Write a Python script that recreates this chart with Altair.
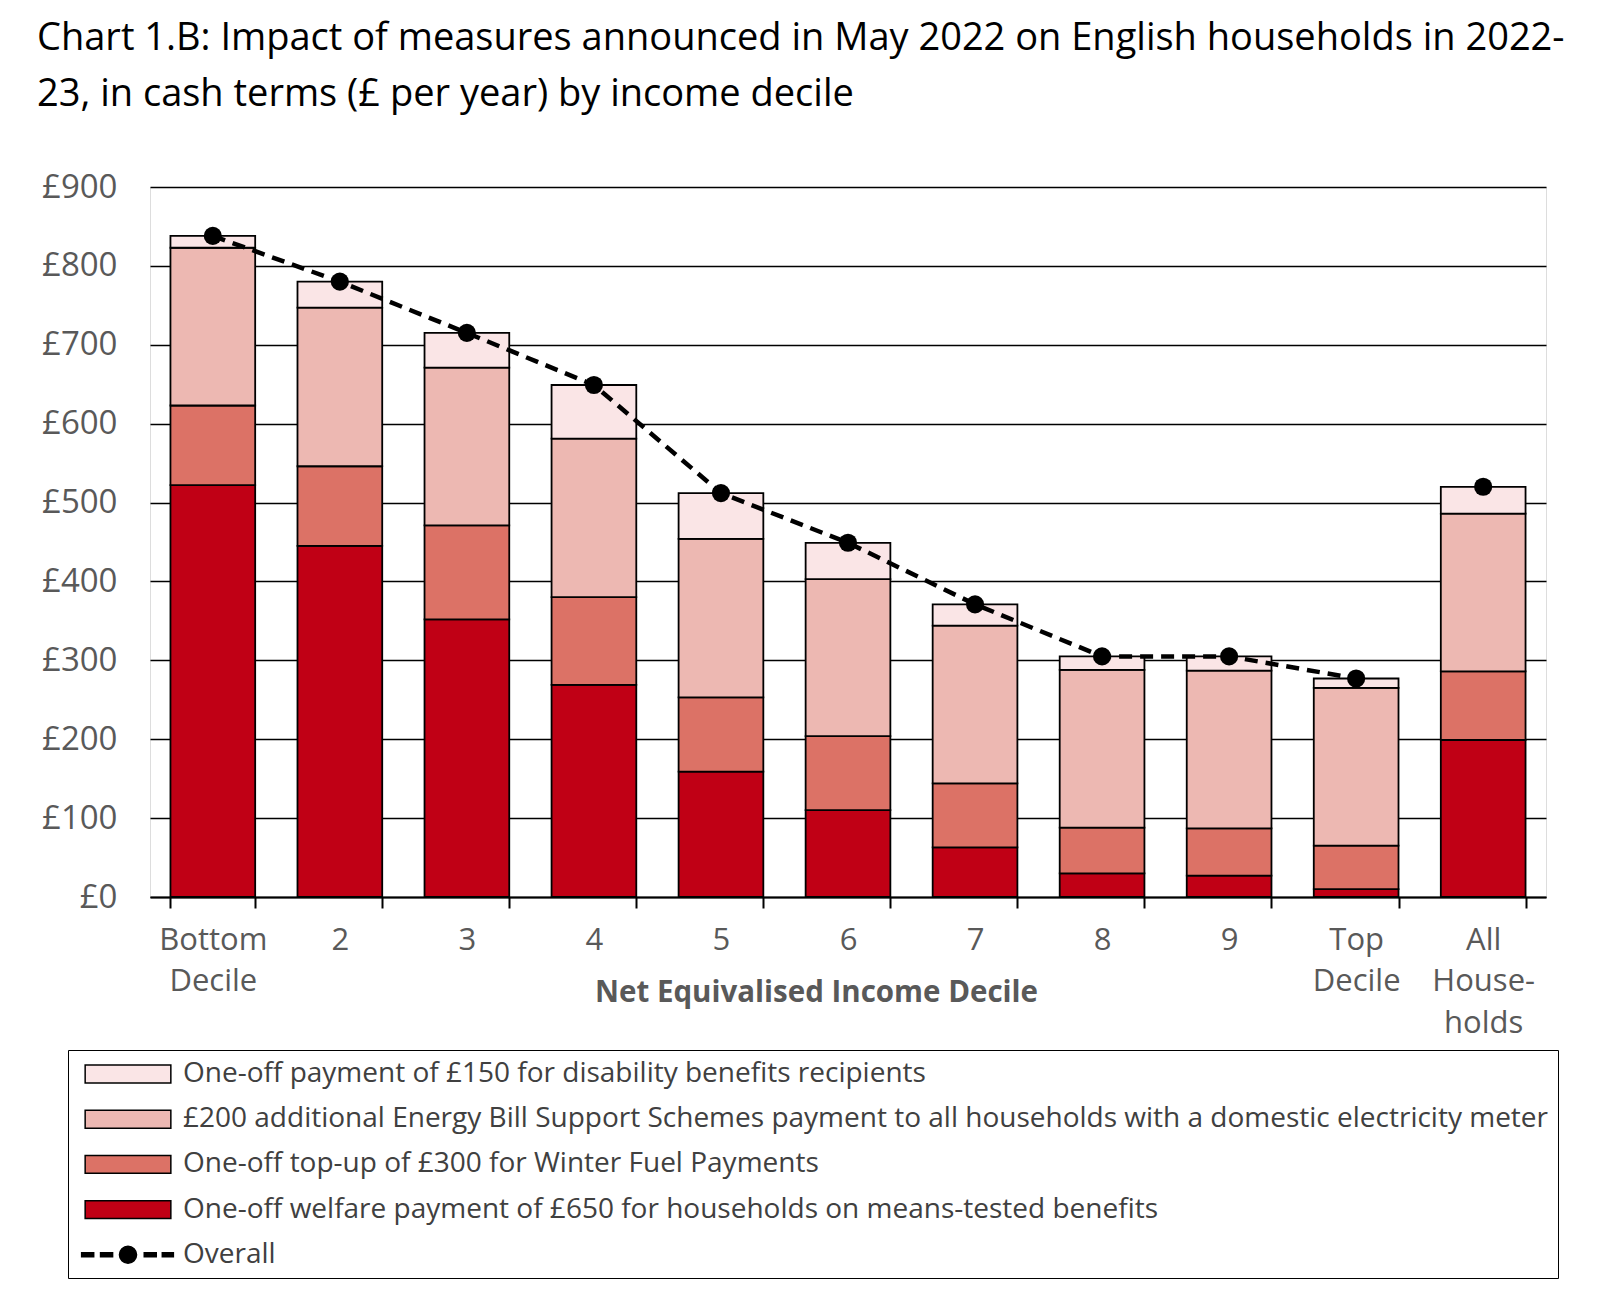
import altair as alt
import pandas as pd

categories = ["Bottom|Decile", "2", "3", "4", "5", "6", "7", "8", "9", "Top|Decile", "All|House-|holds"]

welfare = [522, 445, 352, 269, 159, 110, 63, 30, 27, 10, 199]
winter = [101, 101, 119, 111, 94, 94, 81, 58, 60, 55, 87]
energy = [200, 201, 200, 201, 201, 199, 200, 200, 200, 200, 200]
disability = [15, 33, 44, 68, 58, 46, 27, 17, 18, 12, 34]
overall = [838, 780, 715, 649, 512, 449, 371, 305, 305, 277, 520]

series_names = [
    "One-off payment of £150 for  disability benefits  recipients",
    "£200 additional Energy Bill Support Schemes payment to all households with a domestic electricity meter",
    "One-off  top-up of £300 for Winter Fuel Payments",
    "One-off welfare payment of £650 for households on means-tested benefits",
    "Overall",
]
series_colors = ["#FAE5E6", "#EDB8B2", "#DC7266", "#C00015", "#000000"]

rect_path = "M-3.06,-0.64H3.06V0.64H-3.06Z"
line_path = ("M-3.31,-0.14H-2.45V0.14H-3.31Z M-1.96,-0.14H-1.1V0.14H-1.96Z "
             "M1.16,-0.14H2.02V0.14H1.16Z M2.45,-0.14H3.24V0.14H2.45Z "
             "M-0.61,0A0.61,0.61 0 1,0 0.61,0A0.61,0.61 0 1,0 -0.61,0Z")
series_shapes = [rect_path, rect_path, rect_path, rect_path, line_path]

rows = []
for i, c in enumerate(categories):
    for order, (name, vals) in enumerate(
        [(series_names[3], welfare), (series_names[2], winter),
         (series_names[1], energy), (series_names[0], disability)]
    ):
        rows.append({"cat": c, "series": name, "value": vals[i], "order": order})
df_bars = pd.DataFrame(rows)
df_over = pd.DataFrame({"cat": categories, "value": overall, "series": "Overall"})
df_leg = pd.DataFrame({"series": series_names, "cat": categories[:5], "value": overall[:5]})

font = "Open Sans"
grey = "#595959"

x_enc = alt.X(
    "cat:N",
    sort=categories,
    scale=alt.Scale(domain=categories, paddingInner=0.333, paddingOuter=0.161),
    axis=alt.Axis(
        title="Net Equivalised Income Decile",
        labelExpr="split(datum.label, '|')",
        labelAngle=0,
        labelFontSize=31,
        labelColor=grey,
        labelFont=font,
        labelLineHeight=41.5,
        labelPadding=17,
        labelBaseline="top",
        tickBand="extent",
        ticks=True,
        tickSize=11,
        tickWidth=2,
        tickColor="black",
        domainColor="black",
        domainWidth=2,
        titleFontSize=29.5,
        titleFontWeight="bold",
        titleColor=grey,
        titleFont=font,
        titleX=666,
        titleY=95,
        titleBaseline="middle",
        titleAlign="center",
        titleAnchor="middle",
        grid=False,
    ),
)

y_enc = alt.Y(
    "value:Q",
    stack="zero",
    scale=alt.Scale(domain=[0, 900]),
    axis=alt.Axis(
        title=None,
        values=list(range(0, 901, 100)),
        labelExpr="'£' + datum.value",
        labelFontSize=33,
        labelColor=grey,
        labelFont=font,
        labelPadding=33,
        ticks=False,
        domain=False,
        grid=True,
        gridColor="black",
        gridWidth=1.5,
    ),
)

fill_scale = alt.Scale(domain=series_names[:4], range=series_colors[:4])
color_scale = alt.Scale(domain=series_names, range=series_colors)
shape_scale = alt.Scale(domain=series_names, range=series_shapes)

leg = dict(
    title=None,
    orient="none",
    legendX=-82,
    legendY=863,
    direction="vertical",
    symbolSize=784,
    symbolStrokeWidth=1.5,
    symbolOpacity=1,
    symbolOffset=36,
    labelFontSize=28,
    labelFont=font,
    labelColor="#404040",
    labelLimit=3000,
    labelOffset=40,
    rowPadding=16.2,
    padding=9,
    strokeColor="black",
    fillColor="white",
)

bars = alt.Chart(df_bars).mark_bar(stroke="black", strokeWidth=1.8).encode(
    x=x_enc,
    y=y_enc,
    fill=alt.Fill("series:N", scale=fill_scale, legend=None),
    order=alt.Order("order:Q"),
)

line = alt.Chart(df_over).transform_filter(
    alt.datum.cat != categories[-1]
).mark_line(color="black", strokeWidth=4.5, strokeDash=[13, 8]).encode(
    x=alt.X("cat:N", sort=categories),
    y=alt.Y("value:Q"),
)

pts = alt.Chart(df_over).mark_circle(color="black", size=330, opacity=1).encode(
    x=alt.X("cat:N", sort=categories),
    y=alt.Y("value:Q"),
)

legend_layer = alt.Chart(df_leg).mark_point(
    filled=True, opacity=0, stroke="black", strokeWidth=1.5
).encode(
    x=alt.X("cat:N", sort=categories),
    y=alt.Y("value:Q"),
    color=alt.Color("series:N", scale=color_scale, legend=alt.Legend(**leg)),
    shape=alt.Shape("series:N", scale=shape_scale, legend=alt.Legend(**leg)),
)

chart = alt.layer(bars, line, pts, legend_layer).properties(
    width=1396,
    height=710,
    title=alt.TitleParams(
        text=[
            "Chart 1.B: Impact of measures announced in May 2022 on English households in 2022-",
            "23, in cash terms (£ per year) by income decile",
        ],
        anchor="start",
        frame="group",
        fontSize=38,
        font=font,
        fontWeight="normal",
        color="black",
        lineHeight=56.5,
        dx=-113,
        offset=57,
    ),
    autosize=alt.AutoSizeParams(type="none"),
    padding={"left": 142, "top": 179, "right": 40, "bottom": 395},
).configure_view(
    stroke="black", strokeWidth=1.5
).configure(background="white")

chart.save("out.html", embed_options={"renderer": "svg", "actions": False})
